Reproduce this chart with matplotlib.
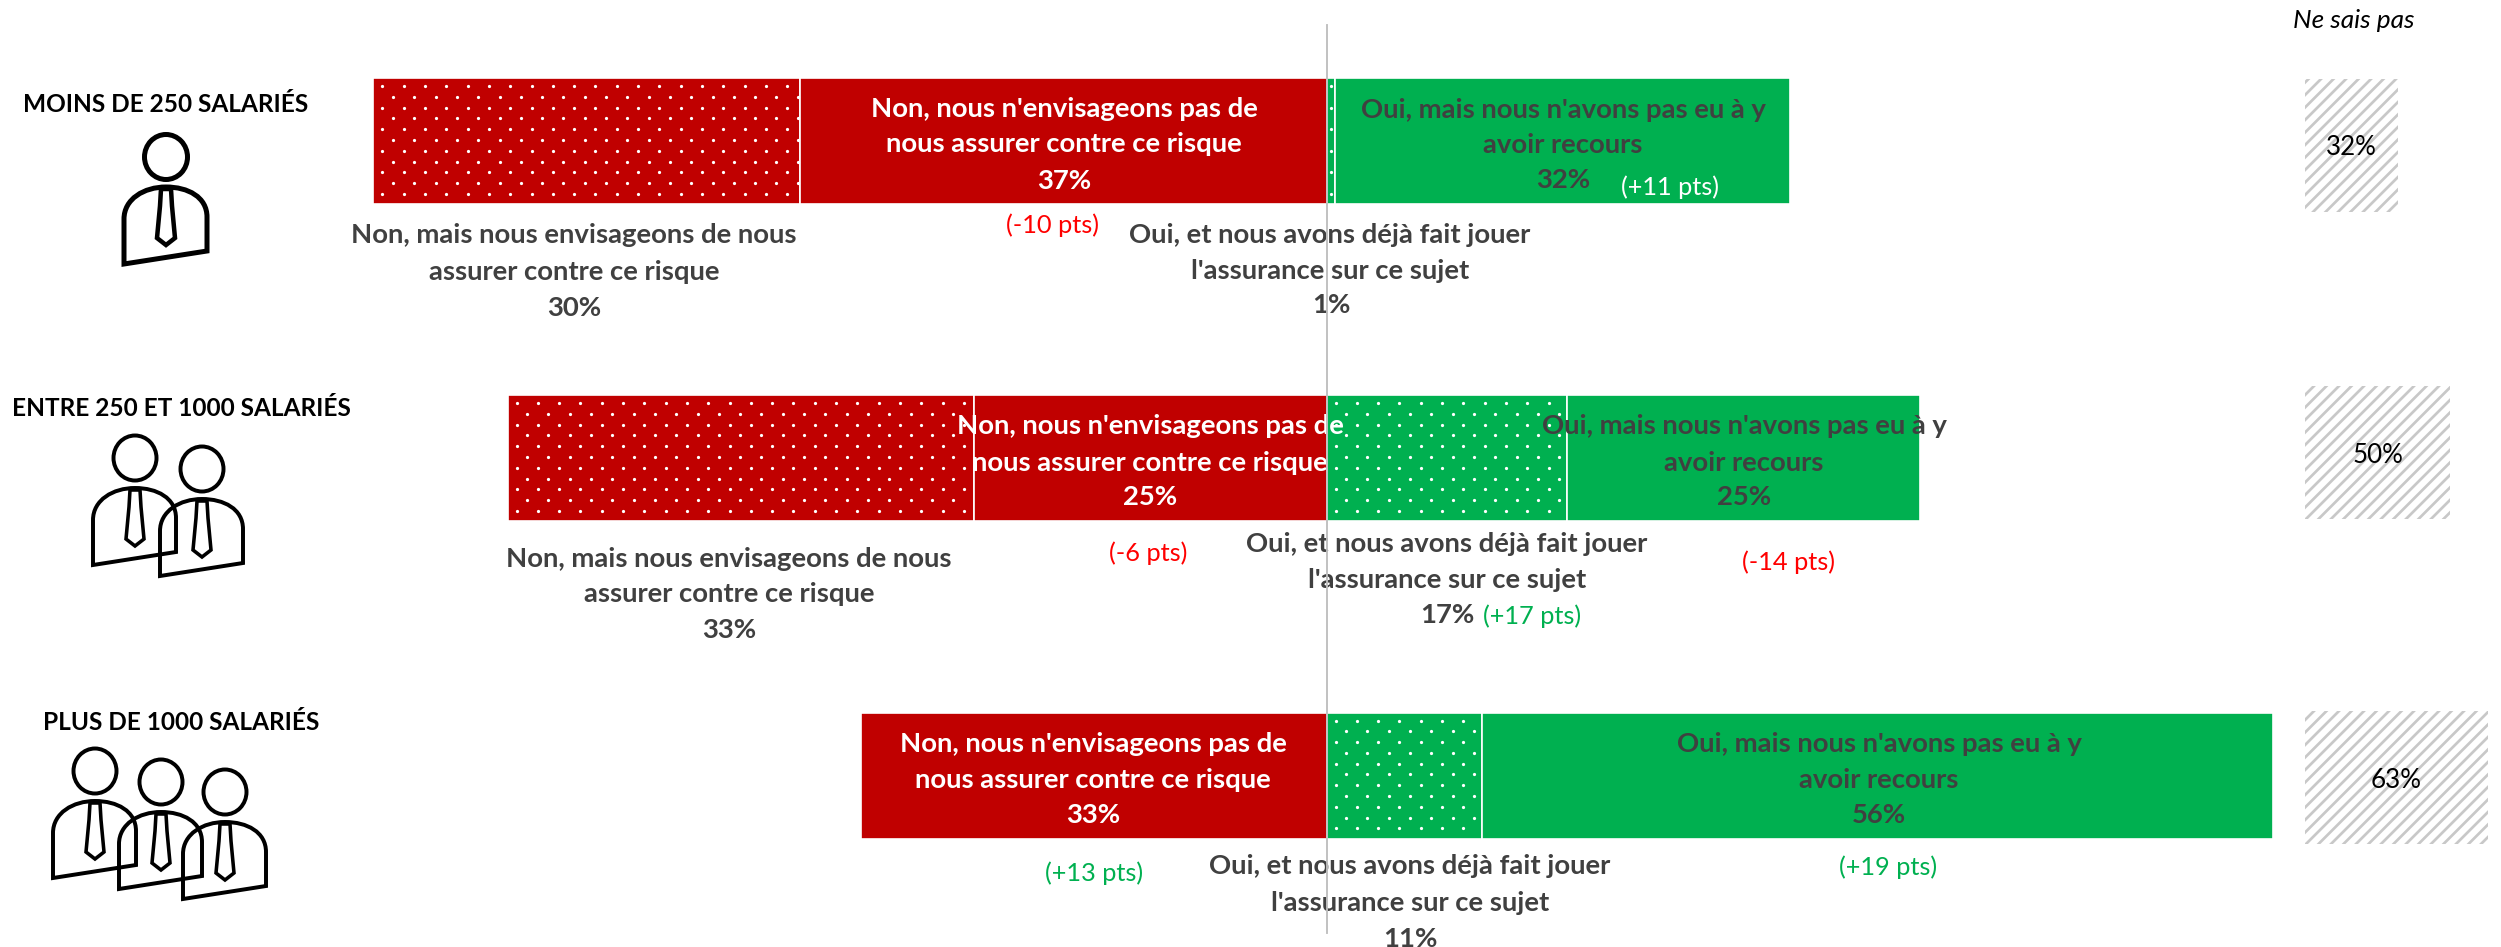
import numpy as np
import matplotlib
matplotlib.use("Agg")
import matplotlib.pyplot as plt
from matplotlib.patches import Ellipse, PathPatch
from matplotlib.path import Path

plt.rcParams["font.family"] = ["Lato", "DejaVu Sans"]
plt.rcParams["hatch.linewidth"] = 1.3

# values, in %
groups = ["MOINS DE 250 SALARIÉS", "ENTRE 250 ET 1000 SALARIÉS", "PLUS DE 1000 SALARIÉS"]
non_envisage = [30.2, 33, 0]
non_pas = [37.3, 25, 33]
oui_joue = [0.6, 17, 11]
oui_sans = [32.2, 25, 56]
ne_sais_pas = [32, 50, 63]

L_NON_ENV = ["Non, mais nous envisageons de nous", "assurer contre ce risque"]
L_NON_PAS = ["Non, nous n'envisageons pas de", "nous assurer contre ce risque"]
L_OUI_JOUE = ["Oui, et nous avons déjà fait jouer", "l'assurance sur ce sujet"]
L_OUI_SANS = ["Oui, mais nous n'avons pas eu à y", "avoir recours"]

RED = "#C00000"
GREEN = "#00B050"
DARK = "#404040"
W, H = 2501, 947
DPI = 150
ZERO = 1326.5    # px of the 0 line
PCT = 14.12      # px per %

fig = plt.figure(figsize=(W / DPI, H / DPI), dpi=DPI)

# main stacked bars, x in %, y in px
ax = fig.add_axes([0, 0, 1, 1])
ax.set_xlim(-ZERO / PCT, (W - ZERO) / PCT)
ax.set_ylim(H, 0)
ax.axis("off")

y_rows = [141, 458, 775.5]
bar_h = 126

non_envisage = np.array(non_envisage)
non_pas = np.array(non_pas)
oui_joue = np.array(oui_joue)
oui_sans = np.array(oui_sans)


def dots(left, width, yc):
    # white dotted texture, clipped to one bar segment
    x_step = 21.3 / PCT
    y_step = 10.8
    for i, y in enumerate(np.arange(yc - bar_h / 2 + 8, yc + bar_h / 2, y_step)):
        start = left + (9 if i % 2 == 0 else 19.6) / PCT
        xs = np.arange(start, left + width, x_step)
        ax.scatter(xs, [y] * len(xs), s=2.4, color="white", linewidths=0, zorder=3)


kw = dict(height=bar_h, edgecolor="white", linewidth=0.8, zorder=2)
for i, y in enumerate(y_rows):
    if non_envisage[i] > 0:
        ax.barh(y, non_envisage[i], left=-(non_pas[i] + non_envisage[i]), color=RED, **kw)
        dots(-(non_pas[i] + non_envisage[i]), non_envisage[i], y)
    ax.barh(y, non_pas[i], left=-non_pas[i], color=RED, **kw)
    ax.barh(y, oui_joue[i], left=0, color=GREEN, **kw)
    if oui_joue[i] > 1:
        dots(0, oui_joue[i], y)
    else:
        # sliver: one column of dots
        ys = np.arange(y - bar_h / 2 + 8, y + bar_h / 2, 21.6)
        ax.scatter([oui_joue[i] / 2] * len(ys), ys, s=2.4, color="white", linewidths=0, zorder=3)
    ax.barh(y, oui_sans[i], left=oui_joue[i], color=GREEN, **kw)

# ne sais pas boxes, own x scale
ax2 = fig.add_axes([0, 0, 1, 1])
ax2.patch.set_alpha(0)
ax2.set_xlim(-2305 / 2.9, (W - 2305) / 2.9)
ax2.set_ylim(H, 0)
ax2.axis("off")
y_box = [145, 452.5, 777.5]
ax2.barh(y_box, ne_sais_pas, height=133, facecolor="white", edgecolor="#C8C8C8",
         hatch="////", linewidth=0)

# overlay in px for texts and icons
ov = fig.add_axes([0, 0, 1, 1])
ov.patch.set_alpha(0)
ov.set_xlim(0, W)
ov.set_ylim(H, 0)
ov.axis("off")


def lines(x, ys, texts, color=DARK, size=13.2, weight="bold"):
    for y, t in zip(ys, texts):
        ov.text(x, y, t, color=color, fontsize=size, fontweight=weight,
                ha="center", va="center_baseline", zorder=3)


def person(cx, cy, lw=1.9):
    ov.add_patch(Ellipse((cx, cy), 43, 45, fill=False, ec="black", lw=lw))
    body = [(-42, 107), (-42, 62), (-42, 42), (-22, 30), (0, 30), (22, 30), (41, 40),
            (41, 60), (41, 94), (-42, 107)]
    codes = [Path.MOVETO, Path.LINETO, Path.CURVE4, Path.CURVE4, Path.CURVE4, Path.CURVE4,
             Path.CURVE4, Path.CURVE4, Path.LINETO, Path.CLOSEPOLY]
    tie = [(-5, 32), (-6, 49), (-9, 81), (0, 88), (9, 81), (6, 49), (5, 32), (-5, 32)]
    ov.add_patch(PathPatch(Path([(cx + a, cy + b) for a, b in body], codes),
                           fill=False, ec="black", lw=lw))
    ov.add_patch(PathPatch(Path([(cx + a, cy + b) for a, b in tie], closed=True),
                           fill=False, ec="black", lw=lw * 0.9))


person(166, 157, 2.4)
person(135, 458)
person(202, 469)
person(95, 771)
person(161, 782)
person(225, 792)

# group labels
label_x = [166, 181, 181]
label_y = [102, 407, 721]
for x, y, t in zip(label_x, label_y, groups):
    ov.text(x, y, t, color="black", fontsize=11.7, fontweight="bold", ha="center", va="center_baseline")

ov.text(2354, 18, "Ne sais pas", fontsize=12.6, style="italic", color="black", ha="center", va="center_baseline")

# row 1
lines(574, [233, 270], L_NON_ENV)
lines(574, [306], [f"{non_envisage[0]:.0f}%"])
lines(1064, [107, 142], L_NON_PAS, color="white")
lines(1064, [179], [f"{non_pas[0]:.0f}%"], color="white")
lines(1330, [233, 269], L_OUI_JOUE)
lines(1331, [303], [f"{np.ceil(oui_joue[0]):.0f}%"])
lines(1563, [108, 143], L_OUI_SANS)
lines(1563, [178], [f"{oui_sans[0]:.0f}%"])
lines(1670, [185], ["(+11 pts)"], color="white", size=12.2, weight="normal")
lines(1053, [223], ["(-10 pts)"], color="#FF0000", size=12.2, weight="normal")

# row 2
lines(729, [557, 592], L_NON_ENV)
lines(729, [628], [f"{non_envisage[1]:.0f}%"])
lines(1150, [424, 461], L_NON_PAS, color="white")
lines(1150, [495], [f"{non_pas[1]:.0f}%"], color="white")
lines(1447, [542, 578], L_OUI_JOUE)
lines(1447, [613], [f"{oui_joue[1]:.0f}%"])
lines(1744, [424, 461], L_OUI_SANS)
lines(1744, [495], [f"{oui_sans[1]:.0f}%"])
lines(1148, [551], ["(-6 pts)"], color="#FF0000", size=12.2, weight="normal")
lines(1532, [614], ["(+17 pts)"], color=GREEN, size=12.2, weight="normal")
lines(1788, [560], ["(-14 pts)"], color="#FF0000", size=12.2, weight="normal")

# row 3
lines(1093, [742, 778], L_NON_PAS, color="white")
lines(1093, [813], [f"{non_pas[2]:.0f}%"], color="white")
lines(1410, [864, 901], L_OUI_JOUE)
lines(1410, [937], [f"{oui_joue[2]:.0f}%"])
lines(1879, [742, 778], L_OUI_SANS)
lines(1879, [813], [f"{oui_sans[2]:.0f}%"])
lines(1094, [871], ["(+13 pts)"], color=GREEN, size=12.2, weight="normal")
lines(1888, [865], ["(+19 pts)"], color=GREEN, size=12.2, weight="normal")

# ne sais pas values
box_x = [2351, 2378, 2396]
for x, y, v in zip(box_x, y_box, ne_sais_pas):
    ov.text(x, y, f"{v}%", color="black", fontsize=12.5, ha="center", va="center_baseline")

# center line, on top of the texts like in the original
ov.plot([ZERO, ZERO], [25, 933], color="#BFBFBF", lw=0.9, zorder=5)

fig.savefig("out.png", dpi=DPI)
